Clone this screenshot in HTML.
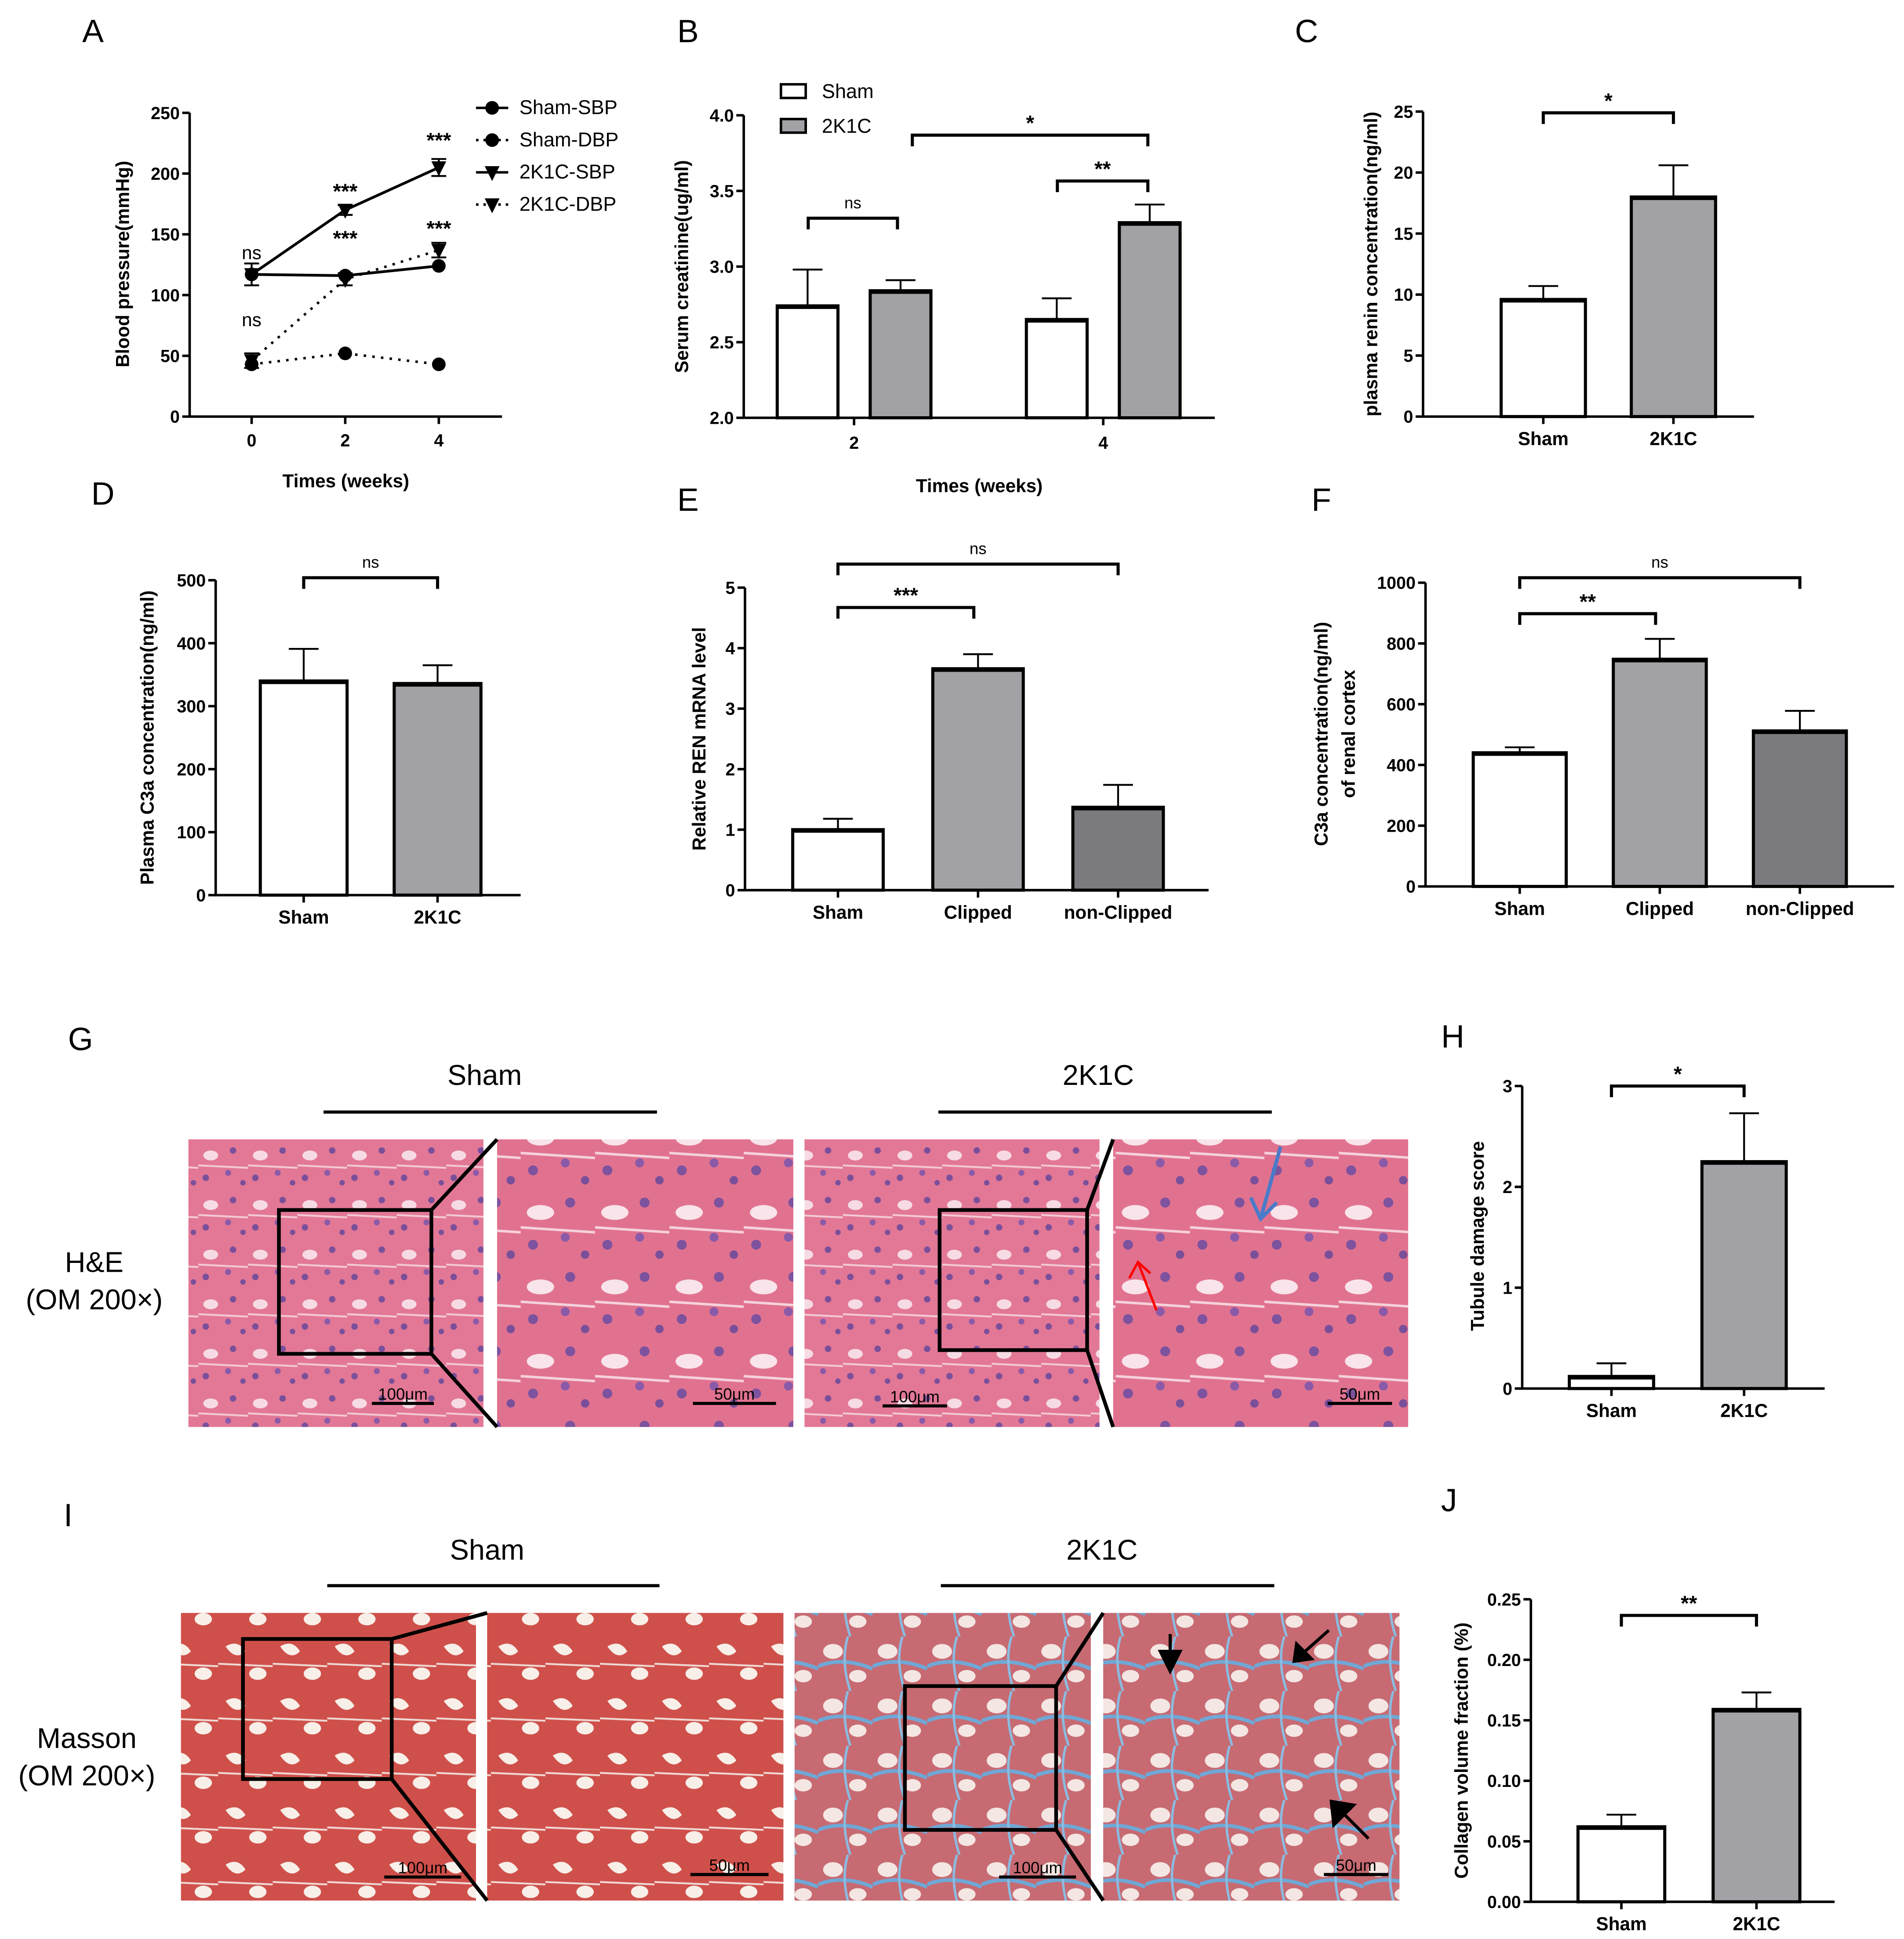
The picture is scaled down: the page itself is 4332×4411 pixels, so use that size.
<!DOCTYPE html>
<html><head><meta charset="utf-8">
<style>
html,body{margin:0;padding:0;background:#fff;}
svg{display:block;font-family:"Liberation Sans",Arial,sans-serif;}
.tk{font-size:14px;font-weight:bold;}
.tt{font-size:15px;font-weight:bold;}
.lt{font-size:15px;}
.pl{font-size:26px;}
</style></head>
<body>
<svg id="fig" width="4332" height="4411" viewBox="0 0 1536 1564" xmlns="http://www.w3.org/2000/svg">
<defs>
<pattern id="he1" width="40" height="40" patternUnits="userSpaceOnUse">
<rect width="40" height="40" fill="#e27896"/>
<ellipse cx="10" cy="12" rx="6" ry="4" fill="#f6dbe4"/>
<circle cx="28" cy="8" r="2.6" fill="#7a4f9a"/><circle cx="6" cy="30" r="2.6" fill="#7a4f9a"/>
<circle cx="24" cy="26" r="2.4" fill="#8a5aa8"/><circle cx="36" cy="34" r="2.2" fill="#7a4f9a"/>
<path d="M0 20 L40 22" stroke="#f3c9d6" stroke-width="1.5"/>
</pattern>
<pattern id="he2" width="60" height="60" patternUnits="userSpaceOnUse">
<rect width="60" height="60" fill="#e1728f"/>
<ellipse cx="16" cy="18" rx="11" ry="6" fill="#f8e4ea"/>
<circle cx="40" cy="10" r="4" fill="#7d529e"/><circle cx="10" cy="44" r="4" fill="#7d529e"/>
<circle cx="36" cy="38" r="3.6" fill="#8a5aa8"/><circle cx="52" cy="52" r="3.4" fill="#7a4f9a"/>
<path d="M0 30 L60 34" stroke="#f5d2dc" stroke-width="2"/>
</pattern>
<pattern id="ma1" width="44" height="44" patternUnits="userSpaceOnUse">
<rect width="44" height="44" fill="#cf4f4a"/>
<path d="M6 8 Q16 2 22 12 Q14 20 6 8Z" fill="#f7efe8"/>
<ellipse cx="32" cy="30" rx="7" ry="5" fill="#f7efe8"/>
<path d="M0 22 L44 24" stroke="#efd9d4" stroke-width="1.5"/>
</pattern>
<pattern id="ma2" width="44" height="44" patternUnits="userSpaceOnUse">
<rect width="44" height="44" fill="#c76a72"/>
<ellipse cx="12" cy="12" rx="8" ry="6" fill="#f4e6e2"/>
<ellipse cx="32" cy="32" rx="7" ry="5" fill="#f4e6e2"/>
<path d="M0 24 Q20 16 44 26" stroke="#6fa8d6" stroke-width="3" fill="none"/>
<path d="M24 0 Q18 20 26 44" stroke="#8bbbe0" stroke-width="2" fill="none"/>
</pattern>
</defs>
<g id="root"></g>
</svg>
<script>
// ===== Panel A data =====
const aWeeks = [0, 2, 4];
const aShamSBP = [117, 116, 124];
const aShamDBP = [43, 52, 43];
const aK1CSBP = [117, 170, 205];
const aK1CDBP = [46, 113, 137];
const aK1CSBPerr = [9, 4, 7];
const aK1CDBPerr = [6, 5, 6];
const aYTicks = [0, 50, 100, 150, 200, 250];
// ===== Panel B data =====
const bWeeks = ['2', '4'];
const bSham = [2.74, 2.65];
const bK1C = [2.84, 3.29];
const bShamErr = [0.24, 0.14];
const bK1CErr = [0.07, 0.12];
const bYTicks = [2.0, 2.5, 3.0, 3.5, 4.0];
// ===== Panel C =====
const cCats = ['Sham', '2K1C'];
const cVals = [9.6, 18.0];
const cErr = [1.1, 2.6];
const cYTicks = [0, 5, 10, 15, 20, 25];
// ===== Panel D =====
const dCats = ['Sham', '2K1C'];
const dVals = [340, 336];
const dErr = [51, 29];
const dYTicks = [0, 100, 200, 300, 400, 500];
// ===== Panel E =====
const eCats = ['Sham', 'Clipped', 'non-Clipped'];
const eVals = [1.0, 3.66, 1.37];
const eErr = [0.18, 0.24, 0.37];
const eYTicks = [0, 1, 2, 3, 4, 5];
// ===== Panel F =====
const fCats = ['Sham', 'Clipped', 'non-Clipped'];
const fVals = [440, 748, 512];
const fErr = [18, 67, 66];
const fYTicks = [0, 200, 400, 600, 800, 1000];
// ===== Panel H =====
const hCats = ['Sham', '2K1C'];
const hVals = [0.12, 2.25];
const hErr = [0.13, 0.48];
const hYTicks = [0, 1, 2, 3];
// ===== Panel J =====
const jCats = ['Sham', '2K1C'];
const jVals = [0.062, 0.159];
const jErr = [0.010, 0.014];
const jYTicks = ['0.00', '0.05', '0.10', '0.15', '0.20', '0.25'];

const NS = 'http://www.w3.org/2000/svg';
const root = document.getElementById('root');
function mk(tag, at, parent, txt) {
  const e = document.createElementNS(NS, tag);
  for (const k in at) e.setAttribute(k, at[k]);
  if (txt !== undefined) e.textContent = txt;
  (parent || root).appendChild(e);
  return e;
}
function grp(name) {
  const g = mk('g', {});
  
  
  return g;
}
function txt(g, x, y, s, cls, anchor, name, rot) {
  const a = {x: x, y: y, class: cls, 'text-anchor': anchor || 'middle'};
  if (rot) a.transform = 'rotate(-90 ' + x + ' ' + y + ')';
  const t = mk('text', a, g, s);
  
  
  return t;
}
function yAxis(g, x, y0, y1, x1, ticks, maxv, minv) {
  const ax = mk('path', {d: 'M' + x + ' ' + y1 + ' V' + y0 + ' H' + x1, stroke: '#000', 'stroke-width': 2, fill: 'none'}, g);
  
  
  const sy = v => y0 - (v - minv) / (maxv - minv) * (y0 - y1);
  ticks.forEach(t => {
    const v = parseFloat(t), yy = sy(v);
    mk('line', {x1: x - 6, x2: x, y1: yy, y2: yy, stroke: '#000', 'stroke-width': 2}, g);
    txt(g, x - 8, yy + 5, String(t), 'tk', 'end', 'y-tick-label');
  });
  return sy;
}
function bracket(g, x1, x2, y, lab) {
  const p = mk('path', {d: 'M' + x1 + ' ' + (y + 9) + ' V' + y + ' H' + x2 + ' V' + (y + 9), stroke: '#000', 'stroke-width': 2.5, fill: 'none'}, g);
  
  
  txt(g, (x1 + x2) / 2, y - (lab === 'ns' ? 8 : 4), lab, lab === 'ns' ? 'lt' : 'tt', 'middle', 'significance-label').style.fontSize = lab === 'ns' ? '13px' : '17px';
}
function bar(g, x0, x1, v, e, sy, fill, name) {
  const yv = sy(v), ye = sy(v + e);
  mk('line', {x1: (x0 + x1) / 2, x2: (x0 + x1) / 2, y1: yv, y2: ye, stroke: '#000', 'stroke-width': 1.5}, g);
  mk('line', {x1: (x0 + x1) / 2 - 12, x2: (x0 + x1) / 2 + 12, y1: ye, y2: ye, stroke: '#000', 'stroke-width': 1.5}, g);
  const r = mk('rect', {x: x0, y: yv, width: x1 - x0, height: sy(sy.min) - yv, fill: fill, stroke: '#000', 'stroke-width': 2.5}, g);
  
  
  mk('line', {x1: x0, x2: x1, y1: yv + 1, y2: yv + 1, stroke: '#000', 'stroke-width': 3}, g);
}
function barChart(name, o) {
  const g = grp(name);
  const sy = yAxis(g, o.ax, o.y0, o.y1, o.x1, o.ticks, o.max, 0);
  sy.min = 0;
  o.cats.forEach((c, i) => {
    const cx = o.cx0 + i * o.step;
    bar(g, cx - o.bw / 2, cx + o.bw / 2, o.vals[i], o.err[i], sy, o.fills[i], 'bar-' + c.toLowerCase());
    mk('line', {x1: cx, x2: cx, y1: o.y0, y2: o.y0 + 6, stroke: '#000', 'stroke-width': 2}, g);
    txt(g, cx, o.y0 + 23, c, 'tt', 'middle', 'x-tick-label');
  });
  (o.br || []).forEach(b => bracket(g, o.cx0 + b[0] * o.step, o.cx0 + b[1] * o.step, b[2], b[3]));
  if (o.title) o.title.forEach((t, k) => txt(g, o.tx + k * 22, o.ty, t, 'tt', 'middle', 'y-axis-title', true));
  return g;
}
const WHITE = '#fff', GRAY = '#a2a2a6', DARK = '#7b7b7f';

// ===== Panel A =====
(function () {
  const g = grp('panel-a-line-chart');
  const sy = yAxis(g, 153, 336, 91, 405, aYTicks, 250, 0);
  const sx = w => 203 + w * 37.75;
  aWeeks.forEach(w => {
    mk('line', {x1: sx(w), x2: sx(w), y1: 336, y2: 342, stroke: '#000', 'stroke-width': 2}, g);
    txt(g, sx(w), 360, String(w), 'tk', 'middle', 'x-tick-label');
  });
  function series(vals, err, dotted, tri, nm) {
    const d = vals.map((v, i) => (i ? 'L' : 'M') + sx(aWeeks[i]) + ' ' + sy(v)).join(' ');
    const p = mk('path', {d: d, stroke: '#000', 'stroke-width': dotted ? 2 : 2.2, fill: 'none', 'stroke-dasharray': dotted ? '2 5' : 'none'}, g);
    
    
    vals.forEach((v, i) => {
      const x = sx(aWeeks[i]), y = sy(v);
      if (err) {
        mk('path', {d: 'M' + (x - 6) + ' ' + sy(v + err[i]) + ' H' + (x + 6) + ' M' + x + ' ' + sy(v + err[i]) + ' V' + sy(v - err[i]) + ' M' + (x - 6) + ' ' + sy(v - err[i]) + ' H' + (x + 6), stroke: '#000', 'stroke-width': 1.5, fill: 'none'}, g);
      }
      const m = tri ? mk('path', {d: 'M' + (x - 6) + ' ' + (y - 5) + ' H' + (x + 6) + ' L' + x + ' ' + (y + 7) + 'Z', fill: '#000'}, g)
                    : mk('circle', {cx: x, cy: y, r: 5.5, fill: '#000'}, g);
      
      
    });
  }
  series(aShamSBP, null, false, false, 'sham-sbp');
  series(aShamDBP, null, true, false, 'sham-dbp');
  series(aK1CSBP, aK1CSBPerr, false, true, 'k1c-sbp');
  series(aK1CDBP, aK1CDBPerr, true, true, 'k1c-dbp');
  txt(g, 203, 209, 'ns', 'lt', 'middle', 'significance-label');
  txt(g, 203, 263, 'ns', 'lt', 'middle', 'significance-label');
  [[2, 160], [2, 198], [4, 119], [4, 190]].forEach(s => txt(g, sx(s[0]), s[1], '***', 'tt', 'middle', 'significance-label').style.fontSize = '17px');
  const leg = [['Sham-SBP', false, false], ['Sham-DBP', true, false], ['2K1C-SBP', false, true], ['2K1C-DBP', true, true]];
  leg.forEach((l, i) => {
    const y = 87 + i * 26;
    const lg = mk('g', {}, g);
    
    
    mk('line', {x1: 384, x2: 410, y1: y, y2: y, stroke: '#000', 'stroke-width': 2, 'stroke-dasharray': l[1] ? '2 4' : 'none'}, lg);
    if (l[2]) mk('path', {d: 'M' + 391 + ' ' + (y - 5) + ' H403 L397 ' + (y + 7) + 'Z'}, lg);
    else mk('circle', {cx: 397, cy: y, r: 5.5}, lg);
    txt(lg, 419, y + 5, l[0], 'lt', 'start', 'legend-label').style.fontSize = '16px';
  });
  txt(g, 104, 213, 'Blood pressure(mmHg)', 'tt', 'middle', 'y-axis-title', true);
  txt(g, 279, 393, 'Times (weeks)', 'tt', 'middle', 'x-axis-title');
})();

// ===== Panel B =====
(function () {
  const g = grp('panel-b-grouped-bar-chart');
  const sy = yAxis(g, 600, 337, 93, 980, bYTicks.map(v => v.toFixed(1)), 4.0, 2.0);
  sy.min = 2.0;
  const gx = [689, 890];
  bWeeks.forEach((w, i) => {
    bar(g, gx[i] - 62, gx[i] - 13, bSham[i], bShamErr[i], sy, WHITE, 'bar-sham-week-' + w);
    bar(g, gx[i] + 13, gx[i] + 62, bK1C[i], bK1CErr[i], sy, GRAY, 'bar-2k1c-week-' + w);
    mk('line', {x1: gx[i], x2: gx[i], y1: 337, y2: 343, stroke: '#000', 'stroke-width': 2}, g);
    txt(g, gx[i], 362, w, 'tk', 'middle', 'x-tick-label');
  });
  bracket(g, 652, 724, 176, 'ns');
  bracket(g, 853, 926, 146, '**');
  bracket(g, 736, 926, 109, '*');
  [['Sham', WHITE, 73], ['2K1C', GRAY, 101]].forEach(l => {
    const lg = mk('g', {}, g);
    
    
    mk('rect', {x: 630, y: l[2] - 5, width: 20, height: 11, fill: l[1], stroke: '#000', 'stroke-width': 2}, lg);
    txt(lg, 663, l[2] + 6, l[0], 'lt', 'start', 'legend-label').style.fontSize = '16px';
  });
  txt(g, 555, 215, 'Serum creatinine(ug/ml)', 'tt', 'middle', 'y-axis-title', true);
  txt(g, 790, 397, 'Times (weeks)', 'tt', 'middle', 'x-axis-title');
})();

barChart('panel-c-renin-bar-chart', {ax: 1148, y0: 336, y1: 90, x1: 1415, ticks: cYTicks, max: 25, cats: cCats, vals: cVals, err: cErr,
  cx0: 1245, step: 105, bw: 68, fills: [WHITE, GRAY], br: [[0, 1, 91, '*']], title: ['plasma renin concentration(ng/ml)'], tx: 1111, ty: 213});
barChart('panel-d-c3a-bar-chart', {ax: 174, y0: 722, y1: 468, x1: 420, ticks: dYTicks, max: 500, cats: dCats, vals: dVals, err: dErr,
  cx0: 245, step: 108, bw: 70, fills: [WHITE, GRAY], br: [[0, 1, 466, 'ns']], title: ['Plasma C3a concentration(ng/ml)'], tx: 124, ty: 595});
barChart('panel-e-ren-mrna-bar-chart', {ax: 601, y0: 718, y1: 474, x1: 975, ticks: eYTicks, max: 5, cats: eCats, vals: eVals, err: eErr,
  cx0: 676, step: 113, bw: 73, fills: [WHITE, GRAY, DARK], br: [[0, 0.97, 490, '***'], [0, 2, 455, 'ns']], title: ['Relative REN mRNA level'], tx: 569, ty: 596});
barChart('panel-f-c3a-cortex-bar-chart', {ax: 1150, y0: 715, y1: 470, x1: 1528, ticks: fYTicks, max: 1000, cats: fCats, vals: fVals, err: fErr,
  cx0: 1226, step: 113, bw: 75, fills: [WHITE, GRAY, DARK], br: [[0, 0.97, 495, '**'], [0, 2, 466, 'ns']], title: ['C3a concentration(ng/ml)', 'of renal cortex'], tx: 1071, ty: 592});
barChart('panel-h-tubule-damage-bar-chart', {ax: 1228, y0: 1120, y1: 876, x1: 1472, ticks: hYTicks, max: 3, cats: hCats, vals: hVals, err: hErr,
  cx0: 1300, step: 107, bw: 68, fills: [WHITE, GRAY], br: [[0, 1, 876, '*']], title: ['Tubule damage score'], tx: 1197, ty: 997});
barChart('panel-j-collagen-bar-chart', {ax: 1235, y0: 1534, y1: 1290, x1: 1480, ticks: jYTicks, max: 0.25, cats: jCats, vals: jVals, err: jErr,
  cx0: 1308, step: 109, bw: 70, fills: [WHITE, GRAY], br: [[0, 1, 1303, '**']], title: ['Collagen volume fraction (%)'], tx: 1184, ty: 1412});

// ===== Histology panels =====
function histo(name, x, y, w, h, pat, box, bar, barLab) {
  const g = grp(name);
  mk('rect', {x: x, y: y, width: w, height: h, fill: 'url(#' + pat + ')'}, g);
  if (box) mk('rect', {x: box[0], y: box[1], width: box[2] - box[0], height: box[3] - box[1], fill: 'none', stroke: '#000', 'stroke-width': 3}, g);
  mk('line', {x1: bar[0], x2: bar[1], y1: bar[2], y2: bar[2], stroke: '#000', 'stroke-width': 2.5}, g);
  txt(g, (bar[0] + bar[1]) / 2, bar[2] - 3, barLab, 'lt', 'middle', 'scale-bar-label').style.fontSize = '13px';
  return g;
}
function zoomLines(box, x2, y1, y2) {
  const g = grp('zoom-connector');
  mk('path', {d: 'M' + box[2] + ' ' + box[1] + ' L' + x2 + ' ' + y1 + ' M' + box[2] + ' ' + box[3] + ' L' + x2 + ' ' + y2, stroke: '#000', 'stroke-width': 3}, g);
}
const b1 = [225, 976, 348, 1092], b3 = [758, 976, 877, 1089];
histo('he-sham-overview', 152, 919, 238, 232, 'he1', b1, [300, 350, 1132], '100μm');
histo('he-sham-zoom', 401, 919, 239, 232, 'he2', null, [559, 626, 1132], '50μm');
histo('he-2k1c-overview', 649, 919, 238, 232, 'he1', b3, [712, 764, 1134], '100μm');
histo('he-2k1c-zoom', 898, 919, 238, 232, 'he2', null, [1071, 1123, 1132], '50μm');
zoomLines(b1, 401, 919, 1151); zoomLines(b3, 898, 919, 1151);
const b5 = [196, 1322, 316, 1435], b7 = [730, 1360, 852, 1476];
histo('masson-sham-overview', 146, 1301, 238, 232, 'ma1', b5, [310, 372, 1514], '100μm');
histo('masson-sham-zoom', 393, 1301, 239, 232, 'ma1', null, [557, 620, 1512], '50μm');
histo('masson-2k1c-overview', 641, 1301, 239, 232, 'ma2', b7, [806, 868, 1514], '100μm');
histo('masson-2k1c-zoom', 890, 1301, 239, 232, 'ma2', null, [1068, 1120, 1512], '50μm');
zoomLines(b5, 393, 1301, 1533); zoomLines(b7, 890, 1301, 1533);
(function () {
  const g = grp('annotation-arrows');
  mk('path', {d: 'M933 1057 L918 1018 M911 1031 L918 1018 L928 1027', stroke: '#f00', 'stroke-width': 2, fill: 'none'}, g);
  mk('path', {d: 'M1033 925 L1017 983 M1009 966 L1017 983 L1030 970', stroke: '#4a7bc8', 'stroke-width': 3, fill: 'none'}, g);
  mk('path', {d: 'M944 1318 L944 1346 M936 1332 L944 1348 L952 1332Z', stroke: '#000', 'stroke-width': 2.5, fill: '#000'}, g);
  mk('path', {d: 'M1072 1315 L1046 1338 M1046 1326 L1044 1340 L1058 1338Z', stroke: '#000', 'stroke-width': 2.5, fill: '#000'}, g);
  mk('path', {d: 'M1104 1483 L1078 1457 M1076 1472 L1074 1453 L1092 1456Z', stroke: '#000', 'stroke-width': 2.5, fill: '#000'}, g);
})();
(function () {
  const g = grp('histology-labels');
  txt(g, 391, 875, 'Sham', 'lt', 'middle', 'group-title').style.fontSize = '23px';
  txt(g, 886, 875, '2K1C', 'lt', 'middle', 'group-title').style.fontSize = '23px';
  txt(g, 393, 1258, 'Sham', 'lt', 'middle', 'group-title').style.fontSize = '23px';
  txt(g, 889, 1258, '2K1C', 'lt', 'middle', 'group-title').style.fontSize = '23px';
  [[261, 530, 897], [757, 1026, 897], [264, 532, 1279], [759, 1028, 1279]].forEach(l => mk('line', {x1: l[0], x2: l[1], y1: l[2], y2: l[2], stroke: '#000', 'stroke-width': 2.5}, g));
  [['H&E', 76, 1026], ['(OM 200×)', 76, 1056], ['Masson', 70, 1410], ['(OM 200×)', 70, 1440]].forEach(t => txt(g, t[1], t[2], t[0], 'lt', 'middle', 'stain-label').style.fontSize = '23px');
})();
(function () {
  const g = grp('panel-letters');
  [['A', 75, 34], ['B', 555, 34], ['C', 1054, 34], ['D', 83, 407], ['E', 555, 412], ['F', 1066, 412], ['G', 65, 847], ['H', 1172, 845], ['I', 55, 1231], ['J', 1169, 1219]].forEach(l => txt(g, l[1], l[2], l[0], 'pl', 'middle', 'panel-letter-' + l[0].toLowerCase()));
})();
</script>
</body></html>
